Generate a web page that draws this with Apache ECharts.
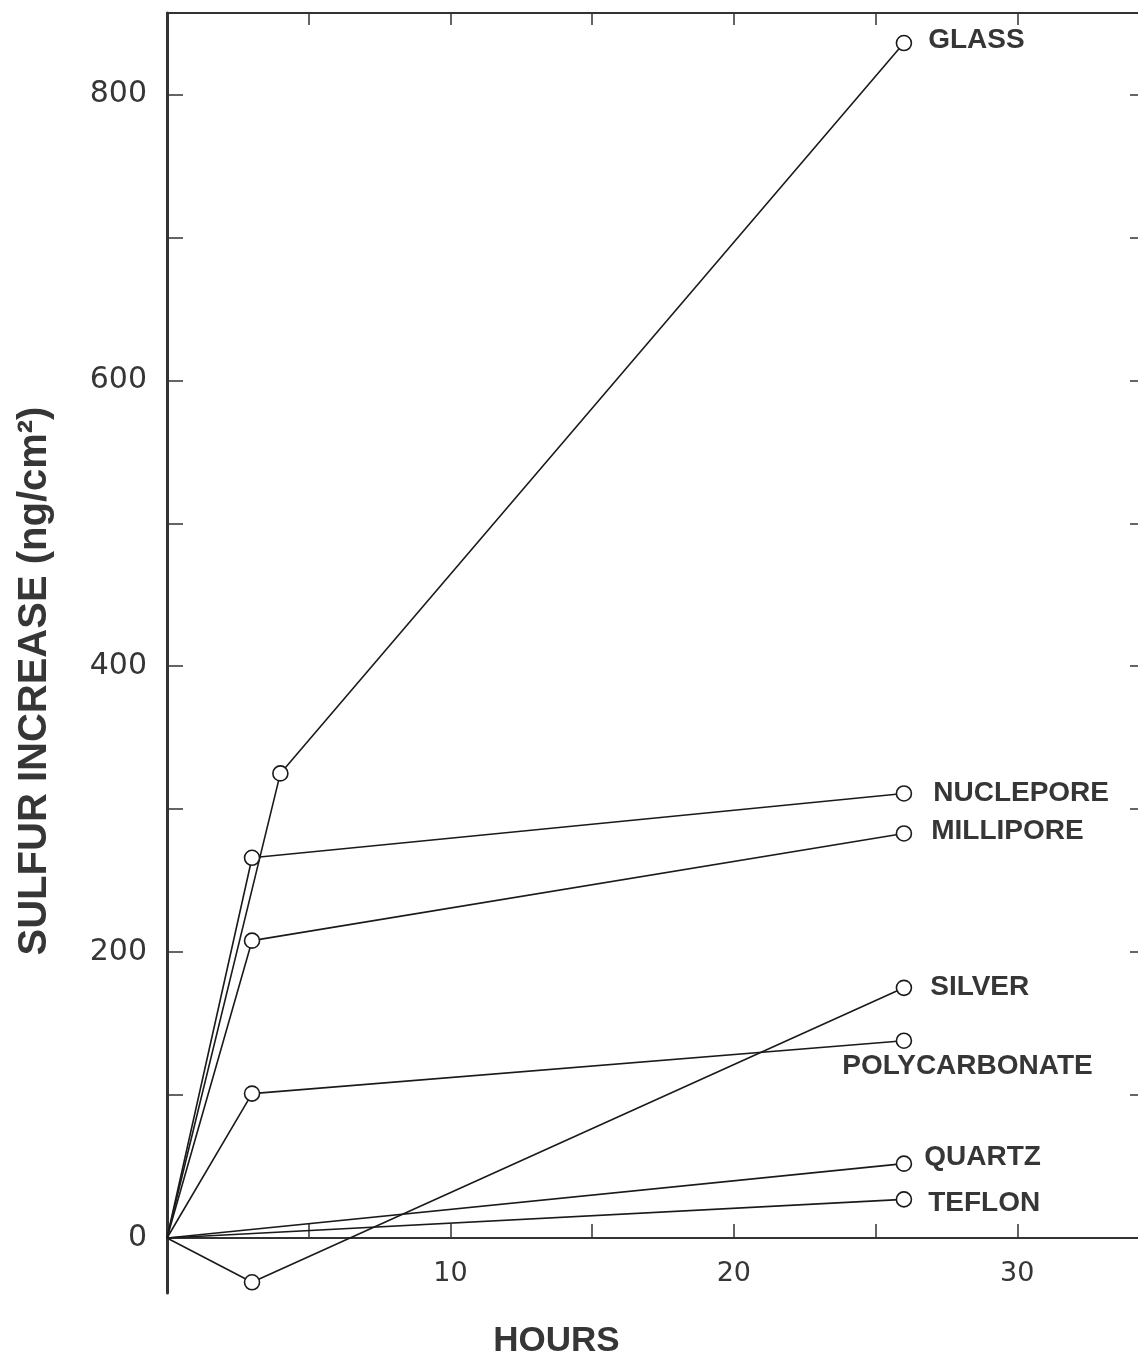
<!DOCTYPE html>
<html>
<head>
<meta charset="utf-8">
<script src="https://cdn.jsdelivr.net/npm/echarts@6/dist/echarts.min.js"></script>
<style>
  html, body { margin: 0; padding: 0; background: #ffffff; }
  #chart { width: 1138px; height: 1363px; }
</style>
</head>
<body>
<div id="chart"></div>
<script>
// Sulfur uptake on filter media versus exposure time
const glassHours = [0, 4, 26];
const glassSulfur = [0, 325, 836];

const nucleporeHours = [0, 3, 26];
const nucleporeSulfur = [0, 266, 311];

const milliporeHours = [0, 3, 26];
const milliporeSulfur = [0, 208, 283];

const silverHours = [0, 3, 26];
const silverSulfur = [0, -31, 175];

const polycarbonateHours = [0, 3, 26];
const polycarbonateSulfur = [0, 101, 138];

const quartzHours = [0, 26];
const quartzSulfur = [0, 52];

const teflonHours = [0, 26];
const teflonSulfur = [0, 27];

// Axis ticks and labels
const xTickValues = [5, 10, 15, 20, 25, 30];
const xTickLabels = [10, 20, 30];
const yTickValues = [100, 200, 300, 400, 500, 600, 700, 800];
const yTickLabels = [0, 200, 400, 600, 800];

// Value range of the sulfur axis (it dips below zero for the silver filter)
const yMin = -38.5;
const yMax = 857;

const ink = '#1a1a1a';
const textInk = '#363636';
const axisInk = '#333333';

// Where each end-of-line name sits relative to its last marker
const labelPlacement = {
  GLASS:         { offset: [2, -3] },
  NUCLEPORE:     { offset: [7, 0] },
  MILLIPORE:     { offset: [5, -2] },
  SILVER:        { offset: [4, -1] },
  POLYCARBONATE: { offset: [-84, 26] },
  QUARTZ:        { offset: [-2, -6] },
  TEFLON:        { offset: [2, 4] }
};

function makeSeries(name, hours, values) {
  const data = hours.map(function (h, i) {
    const item = { value: [h, values[i]] };
    if (i === 0) item.symbol = 'none';
    if (i === hours.length - 1) {
      item.label = {
        show: true,
        formatter: name,
        position: 'right',
        distance: 14,
        offset: labelPlacement[name].offset,
        color: textInk,
        fontFamily: 'Liberation Sans',
        fontWeight: 'bold',
        fontSize: 28
      };
    }
    return item;
  });
  return {
    name: name,
    type: 'line',
    data: data,
    symbol: 'circle',
    symbolSize: 15,
    showAllSymbol: true,
    clip: false,
    lineStyle: { color: ink, width: 1.6 },
    itemStyle: { color: '#ffffff', borderColor: ink, borderWidth: 1.6 },
    emphasis: { disabled: true },
    z: 3
  };
}

const chartEl = document.getElementById('chart');
const chart = echarts.init(chartEl, null, { renderer: 'canvas' });

const gridTop = 13;
const gridBottom = 70;
const gridHeight = chartEl.clientHeight - gridTop - gridBottom;
// The hours axis runs along the zero line of the sulfur axis
const zeroLift = gridHeight * (0 - yMin) / (yMax - yMin);

const axisNameStyle = {
  fontFamily: 'Liberation Sans',
  fontWeight: 'bold',
  color: textInk
};

chart.setOption({
  animation: false,
  backgroundColor: '#ffffff',
  grid: { left: 167, top: gridTop, right: -4, bottom: gridBottom, containLabel: false, outerBoundsMode: 'none' },
  xAxis: [
    {
      type: 'value',
      min: 0,
      max: 34.4,
      position: 'bottom',
      offset: -zeroLift,
      axisLine: { show: true, onZero: false, lineStyle: { color: axisInk, width: 2 } },
      axisTick: { show: true, inside: true, length: 14, customValues: xTickValues,
                  lineStyle: { color: axisInk, width: 1.5 } },
      axisLabel: { customValues: xTickLabels, margin: 23, fontFamily: 'DejaVu Sans',
                   fontSize: 27, color: textInk },
      splitLine: { show: false },
      name: 'HOURS',
      nameLocation: 'middle',
      nameGap: 86,
      nameTextStyle: Object.assign({ fontSize: 35, padding: [0, 196, 0, 0] }, axisNameStyle)
    },
    {
      type: 'value',
      min: 0,
      max: 34.4,
      position: 'top',
      axisLine: { show: true, onZero: false, lineStyle: { color: axisInk, width: 2 } },
      axisTick: { show: true, inside: true, length: 12, customValues: xTickValues,
                  lineStyle: { color: axisInk, width: 1.5 } },
      axisLabel: { show: false },
      splitLine: { show: false }
    }
  ],
  yAxis: [
    {
      type: 'value',
      min: yMin,
      max: yMax,
      position: 'left',
      axisLine: { show: true, onZero: false, lineStyle: { color: axisInk, width: 3 } },
      axisTick: { show: true, inside: true, length: 16, customValues: yTickValues,
                  lineStyle: { color: axisInk, width: 1.5 } },
      axisLabel: { customValues: yTickLabels, margin: 20, fontFamily: 'DejaVu Sans',
                   fontSize: 30, color: textInk },
      splitLine: { show: false },
      name: 'SULFUR INCREASE (ng/cm²)',
      nameLocation: 'middle',
      nameRotate: 90,
      nameGap: 112,
      nameTextStyle: Object.assign({ fontSize: 40, padding: [0, 56, 0, 0] }, axisNameStyle)
    },
    {
      type: 'value',
      min: yMin,
      max: yMax,
      position: 'right',
      axisLine: { show: true, onZero: false, lineStyle: { color: axisInk, width: 2 } },
      axisTick: { show: true, inside: true, length: 12, customValues: yTickValues,
                  lineStyle: { color: axisInk, width: 1.5 } },
      axisLabel: { show: false },
      splitLine: { show: false }
    }
  ],
  series: [
    makeSeries('GLASS', glassHours, glassSulfur),
    makeSeries('NUCLEPORE', nucleporeHours, nucleporeSulfur),
    makeSeries('MILLIPORE', milliporeHours, milliporeSulfur),
    makeSeries('SILVER', silverHours, silverSulfur),
    makeSeries('POLYCARBONATE', polycarbonateHours, polycarbonateSulfur),
    makeSeries('QUARTZ', quartzHours, quartzSulfur),
    makeSeries('TEFLON', teflonHours, teflonSulfur)
  ]
});
</script>
</body>
</html>
